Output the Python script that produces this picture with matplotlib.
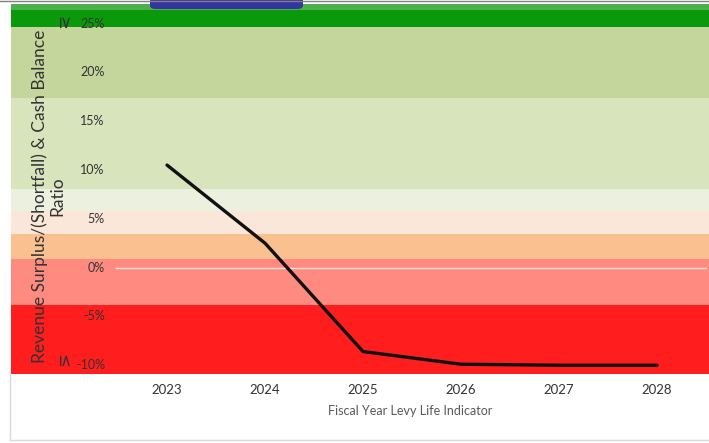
import matplotlib
matplotlib.use("Agg")
import matplotlib.pyplot as plt
from matplotlib.patches import FancyBboxPatch
from matplotlib.lines import Line2D

plt.rcParams["font.family"] = ["Lato", "DejaVu Sans"]

# Data
years = ["2023", "2024", "2025", "2026", "2027", "2028"]
ratio = [10.5, 2.5, -8.6, -9.9, -10.0, -10.0]
ytick_vals = [25, 20, 15, 10, 5, 0, -5, -10]
ytick_labels = ["25%", "20%", "15%", "10%", "5%", "0%", "-5%", "-10%"]

# Background bands (lower, upper edge in %)
band_edges = [-10.9, -3.8, 0.9, 3.4, 5.8, 8.0, 17.4, 24.6, 26.4, 27.0]
band_colors = ["#ff1d1d", "#ff8b80", "#fac090", "#fbe7d9", "#ebf1de",
               "#d8e4bc", "#c4d69b", "#0a990a", "#4cb04c"]

W, H = 709, 443
fig = plt.figure(figsize=(W / 100, H / 100), dpi=100)
ax = fig.add_axes([11 / W, 1 - 374 / H, 1 - 11 / W, (374 - 4) / H])

for lo, hi, c in zip(band_edges[:-1], band_edges[1:], band_colors):
    ax.axhspan(lo, hi, color=c, lw=0, zorder=0)

x = list(range(len(years)))
ax.plot([-0.52, len(years) - 0.5], [0, 0], color="white", lw=1, alpha=0.8, zorder=1)
ax.plot(x, ratio, color="#111111", lw=2.4, solid_capstyle="round", zorder=3)

ax.set_xlim(-1.592, 5.53)
ax.set_ylim(band_edges[0], band_edges[-1])
for s in ax.spines.values():
    s.set_visible(False)
ax.set_xticks(x)
ax.set_xticklabels(years, fontsize=9.5, color="#333333")
ax.tick_params(axis="x", length=0, pad=7)
ax.set_yticks([])

# y tick labels sit inside the coloured area
for v, lab in zip(ytick_vals, ytick_labels):
    ax.text(-0.635, v, lab, ha="right", va="center", fontsize=9, color="#333333")

ax.text(-1.07, 25.1, "\u2265", rotation=270, ha="center", va="center", fontsize=12,
        color="#333333", family="DejaVu Sans")
ax.text(-1.07, -9.6, "\u2264", rotation=270, ha="center", va="center", fontsize=12,
        color="#333333", family="DejaVu Sans")

fig.text(40 / W, 1 - 196 / H, "Revenue Surplus/(Shortfall) & Cash Balance",
         rotation=90, ha="center", va="center", fontsize=12.5, color="#333333")
fig.text(57 / W, 1 - 196 / H, "Ratio", rotation=90, ha="center", va="center",
         fontsize=12.5, color="#333333")

fig.text(410 / W, 1 - 411 / H, "Fiscal Year Levy Life Indicator", ha="center",
         va="center", fontsize=9, color="#595959")

# frame and top artefacts
fig.add_artist(Line2D([10 / W, 10 / W], [3 / H, 1 - 374 / H], color="#d9d9d9", lw=1))
fig.add_artist(Line2D([10 / W, 1], [3 / H, 3 / H], color="#d9d9d9", lw=1))
fig.add_artist(Line2D([0, 1], [1 - 0.5 / H, 1 - 0.5 / H], color="#808080", lw=1))
fig.add_artist(FancyBboxPatch((150 / W, 1 - 9 / H), 153 / W, 14 / H,
                              boxstyle="round,pad=0,rounding_size=0.008",
                              transform=fig.transFigure, color="#3535a0", lw=0))

fig.savefig("out.png", dpi=100)
